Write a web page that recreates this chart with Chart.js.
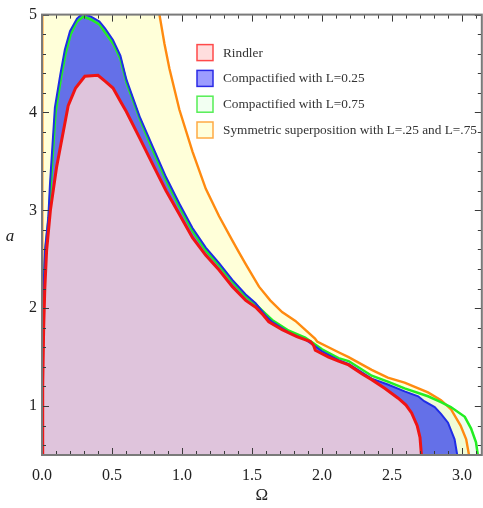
<!DOCTYPE html>
<html>
<head>
<meta charset="utf-8">
<script src="https://cdn.jsdelivr.net/npm/chart.js@4/dist/chart.umd.min.js"></script>
<style>
  html, body { margin: 0; padding: 0; background: #fff; }
  #wrap { width: 483px; height: 508px; }
</style>
</head>
<body>
<div id="wrap"><canvas id="chart" width="483" height="508"></canvas></div>
<script>
// tick labels
const xTicks = [0, 0.5, 1.0, 1.5, 2.0, 2.5, 3.0];
const yTicks = [1, 2, 3, 4, 5];

const seriesLabels = [
  "Rindler",
  "Compactified with L=0.25",
  "Compactified with L=0.75",
  "Symmetric superposition with L=.25 and L=.75",
];

// Rindler boundary
const rindlerW = [0, 0.005, 0.012, 0.02, 0.033, 0.06, 0.104, 0.187, 0.24, 0.306, 0.40, 0.45, 0.507, 0.566, 0.602, 0.697, 0.791, 0.886, 0.981, 1.075, 1.17, 1.265, 1.36, 1.455, 1.526, 1.58, 1.62, 1.715, 1.82, 1.917, 1.94, 1.952, 2.047, 2.118, 2.19, 2.284, 2.355, 2.45, 2.544, 2.60, 2.64, 2.68, 2.70, 2.71];
const rindlerA = [0.5, 1.2, 1.8, 2.2, 2.59, 3.0, 3.44, 4.07, 4.25, 4.37, 4.38, 4.32, 4.25, 4.10, 4.01, 3.74, 3.47, 3.20, 2.96, 2.72, 2.54, 2.39, 2.22, 2.08, 2.01, 1.93, 1.86, 1.78, 1.71, 1.66, 1.62, 1.57, 1.50, 1.46, 1.42, 1.33, 1.27, 1.18, 1.08, 1.01, 0.93, 0.80, 0.68, 0.5];

// compactified L=0.25
const l25W = [0, 0.003, 0.011, 0.021, 0.045, 0.057, 0.092, 0.13, 0.163, 0.2, 0.25, 0.29, 0.35, 0.41, 0.45, 0.507, 0.56, 0.602, 0.697, 0.791, 0.886, 0.981, 1.075, 1.17, 1.265, 1.36, 1.455, 1.526, 1.6, 1.644, 1.763, 1.88, 1.952, 2.0, 2.118, 2.19, 2.355, 2.47, 2.59, 2.687, 2.73, 2.805, 2.85, 2.90, 2.947, 2.966];
const l25A = [0.5, 1.5, 2.2, 2.59, 2.93, 3.27, 4.05, 4.38, 4.64, 4.83, 4.96, 5.01, 4.98, 4.93, 4.86, 4.74, 4.58, 4.34, 3.96, 3.65, 3.34, 3.07, 2.82, 2.62, 2.46, 2.29, 2.14, 2.05, 1.92, 1.86, 1.75, 1.68, 1.61, 1.56, 1.47, 1.43, 1.28, 1.22, 1.15, 1.10, 1.05, 0.99, 0.92, 0.83, 0.66, 0.5];

// compactified L=0.75
const l75W = [0, 0.004, 0.013, 0.025, 0.05, 0.062, 0.097, 0.135, 0.168, 0.205, 0.25, 0.295, 0.35, 0.41, 0.45, 0.51, 0.56, 0.605, 0.70, 0.79, 0.886, 0.981, 1.075, 1.17, 1.265, 1.36, 1.455, 1.526, 1.6, 1.644, 1.763, 1.88, 1.952, 2.0, 2.118, 2.19, 2.355, 2.47, 2.59, 2.757, 2.85, 2.92, 3.02, 3.065, 3.10, 3.113];
const l75A = [0.5, 1.5, 2.2, 2.6, 2.95, 3.25, 4.0, 4.35, 4.6, 4.8, 4.93, 4.98, 4.95, 4.90, 4.82, 4.70, 4.55, 4.30, 3.93, 3.62, 3.31, 3.04, 2.79, 2.59, 2.44, 2.27, 2.12, 2.04, 1.94, 1.88, 1.77, 1.70, 1.63, 1.58, 1.49, 1.46, 1.31, 1.25, 1.18, 1.10, 1.04, 0.99, 0.89, 0.77, 0.63, 0.5];

// symmetric superposition
const symW = [0, 0.002, 0.6, 0.78, 0.839, 0.875, 0.91, 0.981, 1.075, 1.17, 1.265, 1.36, 1.407, 1.455, 1.55, 1.63, 1.715, 1.81, 1.95, 1.965, 2.118, 2.19, 2.355, 2.47, 2.59, 2.757, 2.85, 2.92, 2.99, 3.03, 3.05];
const symA = [0.5, 7, 7, 5.6, 5.0, 4.7, 4.45, 4.03, 3.6, 3.22, 2.94, 2.69, 2.57, 2.45, 2.22, 2.08, 1.96, 1.87, 1.69, 1.66, 1.55, 1.50, 1.37, 1.29, 1.24, 1.14, 1.06, 0.97, 0.80, 0.66, 0.5];

const pts = (w, a) => w.map((v, i) => ({ x: v, y: a[i] }));

const legendBoxes = [
  { fill: "#ffdede", stroke: "#ff4a4a" },
  { fill: "#9c9cff", stroke: "#2a2ae6" },
  { fill: "#f2fff2", stroke: "#55ee55" },
  { fill: "#ffffdc", stroke: "#ffaa44" },
];

const framePlugin = {
  id: "frame",
  afterDatasetsDraw(chart) {
    const { ctx, chartArea, scales } = chart;
    const { left, right, top, bottom } = chartArea;
    const x = scales.x, y = scales.y;
    ctx.save();

    // inward ticks on all four sides
    ctx.strokeStyle = "#3a3a3a";
    ctx.lineWidth = 1;
    ctx.beginPath();
    for (let i = 0; i <= 31; i++) {
      const px = Math.round(x.getPixelForValue(i / 10)) + 0.5;
      const len = i % 5 === 0 ? 7 : 4;
      ctx.moveTo(px, bottom); ctx.lineTo(px, bottom - len);
      ctx.moveTo(px, top); ctx.lineTo(px, top + len);
    }
    for (let i = 3; i <= 25; i++) {
      const py = Math.round(y.getPixelForValue(i / 5)) + 0.5;
      const len = i % 5 === 0 ? 7 : 4;
      ctx.moveTo(left, py); ctx.lineTo(left + len, py);
      ctx.moveTo(right, py); ctx.lineTo(right - len, py);
    }
    ctx.stroke();

    // frame
    ctx.strokeStyle = "#7a7a7a";
    ctx.lineWidth = 2;
    ctx.strokeRect(left, top, right - left, bottom - top);

    // axis titles
    ctx.fillStyle = "#222";
    ctx.textAlign = "center";
    ctx.textBaseline = "middle";
    ctx.font = "italic 17px 'Liberation Serif', serif";
    ctx.fillText("a", 10, (top + bottom) / 2 + 2);
    ctx.font = "17px 'Liberation Serif', serif";
    ctx.fillText("Ω", (left + right) / 2, 496);

    // legend
    const lx = left + 155, ly = top + 30, step = 25.8;
    ctx.font = "13.3px 'Liberation Serif', serif";
    ctx.textAlign = "left";
    seriesLabels.forEach((label, i) => {
      const by = ly + i * step;
      ctx.fillStyle = legendBoxes[i].fill;
      ctx.fillRect(lx, by, 16, 16);
      ctx.strokeStyle = legendBoxes[i].stroke;
      ctx.lineWidth = 1.5;
      ctx.strokeRect(lx, by, 16, 16);
      ctx.fillStyle = "#333";
      ctx.fillText(label, lx + 26, by + 8.5);
    });
    ctx.restore();
  },
};

new Chart(document.getElementById("chart"), {
  type: "line",
  data: {
    datasets: [
      {
        label: seriesLabels[3],
        data: pts(symW, symA),
        borderColor: "#ff8a10",
        backgroundColor: "#ffffd9",
        borderWidth: 2.4,
        fill: "start",
        order: 4,
      },
      {
        label: seriesLabels[2],
        data: pts(l75W, l75A),
        borderColor: "#22ee22",
        backgroundColor: "rgba(205, 245, 205, 0.3)",
        borderWidth: 2.5,
        fill: "start",
        order: 3,
      },
      {
        label: seriesLabels[1],
        data: pts(l25W, l25A),
        borderColor: "#1f2de6",
        backgroundColor: "#6470e8",
        borderWidth: 2,
        fill: "start",
        order: 2,
      },
      {
        label: seriesLabels[0],
        data: pts(rindlerW, rindlerA),
        borderColor: "#f01414",
        backgroundColor: "#dfc4dc",
        borderWidth: 3,
        fill: "start",
        order: 1,
      },
    ],
  },
  options: {
    responsive: false,
    animation: false,
    events: [],
    layout: { padding: { top: 13, right: 0, left: 0, bottom: 0 } },
    elements: { point: { radius: 0 }, line: { tension: 0 } },
    plugins: {
      legend: { display: false },
      tooltip: { enabled: false },
      filler: { drawTime: "beforeDatasetsDraw" },
    },
    scales: {
      x: {
        type: "linear",
        min: 0,
        max: Math.PI,
        grid: { display: false, drawTicks: false },
        border: { display: false },
        afterBuildTicks: (s) => { s.ticks = xTicks.map((v) => ({ value: v })); },
        afterFit: (s) => { s.height = 53; },
        ticks: {
          padding: 11,
          color: "#222",
          font: { family: "'Liberation Serif', serif", size: 16 },
          callback: (v) => Number(v).toFixed(1),
        },
      },
      y: {
        type: "linear",
        min: 0.5,
        max: 5,
        grid: { display: false, drawTicks: false },
        border: { display: false },
        afterBuildTicks: (s) => { s.ticks = yTicks.map((v) => ({ value: v })); },
        afterFit: (s) => { s.width = 42; },
        ticks: {
          padding: 5,
          color: "#222",
          font: { family: "'Liberation Serif', serif", size: 16 },
          callback: (v) => String(v),
        },
      },
    },
  },
  plugins: [framePlugin],
});
</script>
</body>
</html>
